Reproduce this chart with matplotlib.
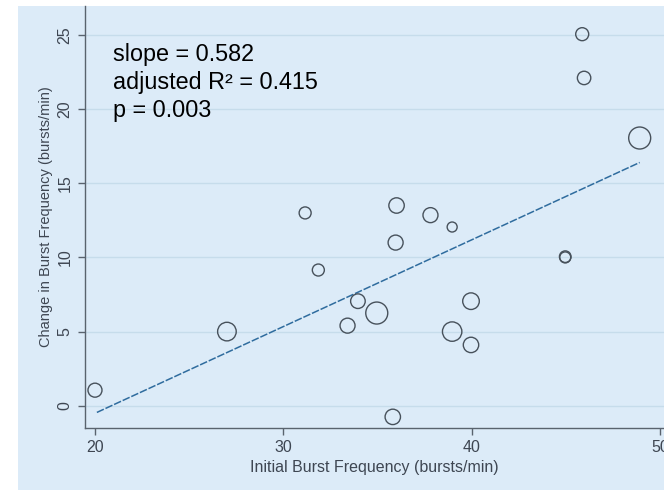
import numpy as np
import matplotlib.pyplot as plt
from matplotlib.patches import Rectangle

plt.rcParams['font.family'] = ['Liberation Sans', 'DejaVu Sans']

# initial burst frequency, change in burst frequency, marker radius (px)
init_freq = [20, 27, 31.15, 31.85, 33.4, 33.95, 34.95, 36.0, 35.95, 35.8,
             37.8, 38.95, 38.95, 39.95, 39.95, 44.95, 44.95, 45.85, 45.95, 48.9]
change_freq = [1.05, 5.0, 13.0, 9.15, 5.4, 7.05, 6.25, 13.5, 11.0, -0.75,
               12.85, 12.05, 5.0, 7.05, 4.1, 10.0, 10.05, 25.05, 22.1, 18.05]
weight_r = [7, 9.3, 6, 6, 7.5, 7.3, 11, 7.7, 7.5, 7.7,
            7.5, 5, 9.7, 8.3, 7.7, 5.5, 5.8, 6.5, 6.7, 11]

fit_x = [20.1, 48.9]
fit_y = [-0.45, 16.4]

stats_lines = ["slope = 0.582", "adjusted R\u00b2 = 0.415", "p = 0.003"]

bg = '#dcebf8'
txt = '#3e4652'

fig = plt.figure(figsize=(6.64, 4.9), dpi=100)
fig.patch.set_facecolor('white')
fig.patches.append(Rectangle((18 / 664, 0), 1 - 18 / 664, 484 / 490,
                             transform=fig.transFigure, facecolor=bg,
                             edgecolor='none', zorder=-10))

ax = fig.add_axes([85 / 664, 62 / 490, 1 - 85 / 664, 422 / 490])
ax.set_facecolor(bg)

sizes = [(2 * r * 0.72) ** 2 for r in weight_r]
ax.scatter(init_freq, change_freq, s=sizes, facecolors='none',
           edgecolors='#47515b', linewidths=1.0, zorder=3)
ax.plot(fit_x, fit_y, color='#2f6c9e', lw=1.1, linestyle=(0, (5, 1.2)), zorder=2)

ax.set_xlim(19.47, 50.19)
ax.set_ylim(-1.5, 26.95)
ax.set_xticks([20, 30, 40, 50])
ax.set_yticks([0, 5, 10, 15, 20, 25])
ax.grid(axis='y', color='#c6dceb', lw=1.0)
ax.set_axisbelow(True)

for s in ['top', 'right']:
    ax.spines[s].set_visible(False)
for s in ['left', 'bottom']:
    ax.spines[s].set_color('#59636e')
    ax.spines[s].set_linewidth(1.0)

ax.tick_params(axis='both', colors='#59636e', labelcolor=txt, length=5,
               width=1.0, labelsize=11.5)
ax.tick_params(axis='y', pad=4)
plt.setp(ax.get_yticklabels(), rotation=90, va='center')

ax.set_xlabel("Initial Burst Frequency (bursts/min)", fontsize=11.5,
              color=txt, labelpad=4)
ax.set_ylabel("Change in Burst Frequency (bursts/min)", fontsize=10.5,
              color=txt, labelpad=3)

for i, line in enumerate(stats_lines):
    ax.text(20.95, 23.26 - i * 1.9, line, fontsize=16.8, color='black',
            va='baseline', ha='left')

fig.savefig('out.png', dpi=100, facecolor=fig.get_facecolor())
